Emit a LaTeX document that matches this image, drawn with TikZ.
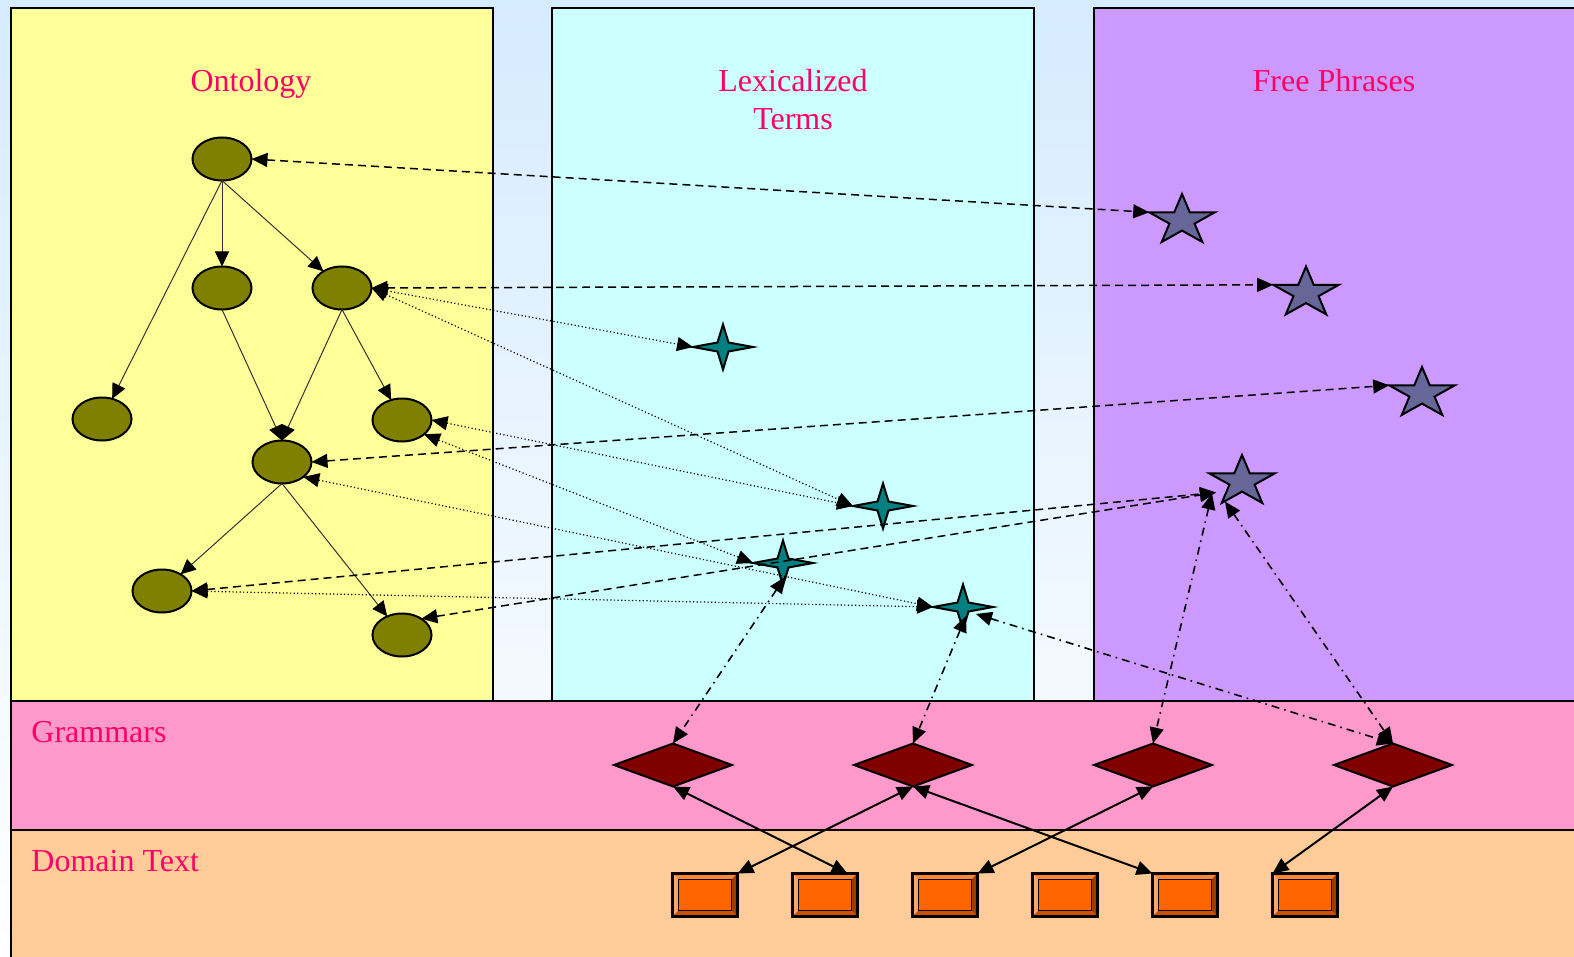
\documentclass[tikz,border=0pt]{standalone}
\usepackage{fontspec}
\setmainfont{Liberation Serif}
\usetikzlibrary{arrows.meta,shapes.geometric,calc}
\definecolor{bgblue}{RGB}{213,235,255}
\definecolor{ontyellow}{RGB}{255,255,153}
\definecolor{lexcyan}{RGB}{204,255,255}
\definecolor{freepurple}{RGB}{204,153,255}
\definecolor{grampink}{RGB}{255,153,204}
\definecolor{dompeach}{RGB}{255,204,153}
\definecolor{ellolive}{RGB}{128,128,0}
\definecolor{fourteal}{RGB}{0,128,128}
\definecolor{starblue}{RGB}{102,102,153}
\definecolor{diamaroon}{RGB}{128,0,0}
\definecolor{boxorange}{RGB}{255,102,0}
\definecolor{bvtop}{RGB}{255,133,51}
\definecolor{bvleft}{RGB}{255,163,102}
\definecolor{bvright}{RGB}{153,61,0}
\definecolor{bvbottom}{RGB}{204,82,0}
\definecolor{labelred}{RGB}{255,0,102}
\tikzset{
  panel/.style={draw=black, line width=1pt},
  lbl/.style={anchor=base, inner sep=0pt, text=labelred, font=\fontsize{16}{19}\selectfont},
  ell/.style={ellipse, draw=black, fill=ellolive, line width=1pt, minimum width=29.5pt, minimum height=21.5pt, inner sep=0pt, outer sep=0pt},
  dia/.style={diamond, draw=black, fill=diamaroon, line width=1pt, minimum width=59pt, minimum height=21.5pt, inner sep=0pt, outer sep=0pt},
  bx/.style={rectangle, draw=black, fill=boxorange, line width=1pt, minimum width=32.5pt, minimum height=21.5pt, inner sep=0pt, outer sep=0pt},
  treelink/.style={-{Triangle[length=7.5pt,width=7pt,black]}, draw=black!80, line width=0.5pt},
  dashlink/.style={<->, line width=0.75pt, dash pattern=on 4pt off 2.5pt},
  dotlink/.style={<->, line width=0.6pt, dash pattern=on 0.6pt off 1.2pt},
  ddlink/.style={<->, line width=0.8pt, dash pattern=on 4pt off 2.5pt on 0.8pt off 2.5pt},
  solidlink/.style={<->, line width=1pt},
  fivestar/.pic={
    \draw[fill=starblue, line width=1pt, line join=miter]
      (0,-26.5) -- (-7.76,-8.17) -- (-32.81,-8.19) -- (-12.55,3.12) -- (-20.28,21.44)
      -- (0,10.1) -- (20.28,21.44) -- (12.55,3.12) -- (32.81,-8.19) -- (7.76,-8.17) -- cycle;
    \coordinate (-c) at (0,0);
    \coordinate (-w) at (-32.81,-8.19);
  },
  fourstar/.pic={
    \draw[fill=fourteal, line width=1pt, line join=miter]
      (-30,0) -- (-5.5,-4.5) -- (0,-22.5) -- (5.5,-4.5) -- (30,0) -- (5.5,4.5) -- (0,22.5) -- (-5.5,4.5) -- cycle;
    \coordinate (-c) at (0,0);
    \coordinate (-w) at (-30,0);
  }
}
\begin{document}
\begin{tikzpicture}[x=0.5pt, y=-0.5pt, >={Triangle[length=8pt,width=7pt]}]
\useasboundingbox (0,0) rectangle (1574,957);
\shade[top color=bgblue, bottom color=white] (0,0) rectangle (1574,957);
% panels
\draw[panel, fill=ontyellow] (11,8) rectangle (493,701);
\draw[panel, fill=lexcyan] (552,8) rectangle (1034,701);
\draw[panel, fill=freepurple] (1094,8) rectangle (1590,701);
\draw[panel, fill=grampink] (11,701) rectangle (1590,830);
\draw[panel, fill=dompeach] (11,830) rectangle (1590,975);
% labels
\node[lbl] (tOnt) at (251,92) {Ontology};
\node[lbl] (tLex1) at (793,92) {Lexicalized};
\node[lbl] (tLex2) at (793,130) {Terms};
\node[lbl] (tFree) at (1334,92) {Free Phrases};
\node[lbl, anchor=base west] (tGram) at (31,742) {Grammars};
\node[lbl, anchor=base west] (tDom) at (31,871) {Domain Text};
% ontology nodes
\node[ell] (E1) at (222,159) {};
\node[ell] (E2) at (222,288) {};
\node[ell] (E3) at (342,288) {};
\node[ell] (E4) at (102,419) {};
\node[ell] (E5) at (402,420) {};
\node[ell] (E6) at (282,462) {};
\node[ell] (E7) at (162,591) {};
\node[ell] (E8) at (402,635) {};
% lexicalized terms
\pic (S1) at (723,347) {fourstar};
\pic (S2) at (883,506) {fourstar};
\pic (S3) at (783,563) {fourstar};
\pic (S4) at (963,607) {fourstar};
% free phrases
\pic (P1) at (1182,220.5) {fivestar};
\pic (P2) at (1306,293) {fivestar};
\pic (P3) at (1422,393.5) {fivestar};
\pic (P4) at (1242,481.5) {fivestar};
% grammars
\node[dia] (D1) at (673,765) {};
\node[dia] (D2) at (913,765) {};
\node[dia] (D3) at (1153,765) {};
\node[dia] (D4) at (1393,765) {};
% domain text boxes
\foreach \i in {1,...,6}{
  \node[bx] (B\i) at ({705+120*(\i-1)},895) {};
  \fill[bvtop] (B\i.north west) -- (B\i.north east) -- ($(B\i.north east)+(-6,6)$) -- ($(B\i.north west)+(6,6)$) -- cycle;
  \fill[bvleft] (B\i.north west) -- ($(B\i.north west)+(6,6)$) -- ($(B\i.south west)+(6,-6)$) -- (B\i.south west) -- cycle;
  \fill[bvright] (B\i.north east) -- ($(B\i.north east)+(-6,6)$) -- ($(B\i.south east)+(-6,-6)$) -- (B\i.south east) -- cycle;
  \fill[bvbottom] (B\i.south west) -- ($(B\i.south west)+(6,-6)$) -- ($(B\i.south east)+(-6,-6)$) -- (B\i.south east) -- cycle;
  \draw[line width=0.8pt] ($(B\i.north west)+(6,6)$) rectangle ($(B\i.south east)+(-6,-6)$);
  \draw[line width=1.2pt] (B\i.north west) rectangle (B\i.south east);
}
% ontology tree
\draw[treelink] (E1.south) -- (E2.north);
\draw[treelink] (E1.south) -- (E3);
\draw[treelink] (E1.south) -- (E4);
\draw[treelink] (E2.south) -- (E6.north);
\draw[treelink] (E3.south) -- (E6.north);
\draw[treelink] (E3.south) -- (E5);
\draw[treelink] (E6.south) -- (E7);
\draw[treelink] (E6.south) -- (E8);
% dashed links to free phrases
\draw[dashlink] (E1.east) -- (P1-w);
\draw[dashlink] (E3.east) -- (P2-w);
\draw[dashlink] (E6.east) -- (P3-w);
\draw[dashlink] (E7.east) -- ($(P4-c)+(-26,11)$);
\draw[dashlink] (E8.40) -- ($(P4-c)+(-26,11)$);
% dotted links to lexicalized terms
\draw[dotlink] (E3.east) -- (S1-w);
\draw[dotlink] (E3.east) -- (S2-w);
\draw[dotlink] (E5.east) -- (S2-w);
\draw[dotlink] (E5.-33) -- (S3-w);
\draw[dotlink] (E6.-35) -- (S4-w);
\draw[dotlink] (E7.east) -- (S4-w);
% dash-dot links to grammars
\draw[ddlink] ($(S3-c)+(2,14)$) -- (D1.north);
\draw[ddlink] ($(S4-c)+(3,9)$) -- (D2.north);
\draw[ddlink] ($(S4-c)+(13,7)$) -- (D4.north);
\draw[ddlink] ($(P4-c)+(-30,12)$) -- (D3.north);
\draw[ddlink] ($(P4-c)+(-17,20)$) -- (D4.north);
% grammar to text
\draw[solidlink] (D1.south) -- ($(B2.north east)+(-10,0)$);
\draw[solidlink] (D2.south) -- (B1.north east);
\draw[solidlink] (D2.south) -- (B5.north west);
\draw[solidlink] (D3.south) -- (B3.north east);
\draw[solidlink] (D4.south) -- (B6.north west);
\end{tikzpicture}
\end{document}
